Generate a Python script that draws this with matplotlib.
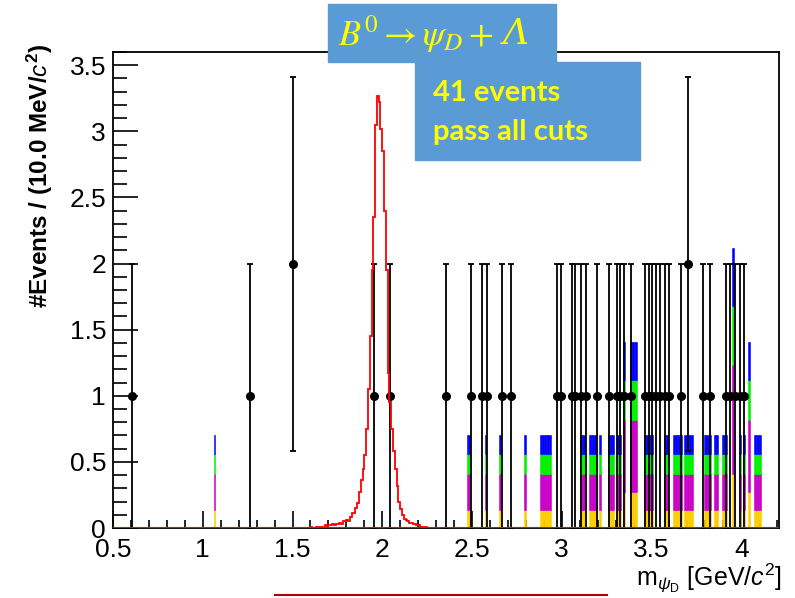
import numpy as np
import matplotlib
matplotlib.use("Agg")
import matplotlib.pyplot as plt
from matplotlib.patches import Rectangle
from matplotlib.ticker import MultipleLocator, FormatStrFormatter

plt.rcParams['font.family'] = ['Liberation Sans', 'DejaVu Sans']
plt.rcParams['mathtext.fontset'] = 'custom'
plt.rcParams['mathtext.rm'] = 'Liberation Sans'
plt.rcParams['mathtext.it'] = 'Liberation Sans:italic'
plt.rcParams['mathtext.bf'] = 'Liberation Sans:bold'

# data: bin centres (10 MeV bins) and counts, 41 events
data_x = [0.605, 1.265, 1.505, 1.955, 2.045, 2.355, 2.495, 2.555, 2.585, 2.665,
          2.715, 2.975, 2.995, 3.055, 3.075, 3.105, 3.135, 3.195, 3.265, 3.305,
          3.325, 3.345, 3.385, 3.465, 3.485, 3.505, 3.525, 3.545, 3.575, 3.595,
          3.665, 3.705, 3.785, 3.825, 3.915, 3.935, 3.965, 3.995, 4.015]
data_n = [1, 1, 2, 1, 1, 1, 1, 1, 1, 1,
          1, 1, 1, 1, 1, 1, 1, 1, 1, 1,
          1, 1, 1, 1, 1, 1, 1, 1, 1, 1,
          1, 2, 1, 1, 1, 1, 1, 1, 1]

# background MC stack: bin centres and multiplicity
mc_x = [1.065, 2.475, 2.485, 2.575, 2.655, 2.795,
        2.885, 2.895, 2.905, 2.915, 2.925, 2.935,
        3.105, 3.115, 3.125, 3.155, 3.165, 3.175, 3.185, 3.215,
        3.265, 3.275, 3.285, 3.315, 3.325, 3.345,
        3.385, 3.395, 3.405, 3.415,
        3.465, 3.475, 3.485, 3.495, 3.505, 3.575, 3.585,
        3.625, 3.635, 3.645, 3.655, 3.665,
        3.685, 3.695, 3.705, 3.715, 3.725,
        3.795, 3.805, 3.815, 3.825, 3.855, 3.865,
        3.895, 3.905, 3.915, 3.955, 3.995, 4.015, 4.045,
        4.075, 4.085, 4.095, 4.105]
mc_w = [1, 1, 1, 1, 1, 1,
        1, 1, 1, 1, 1, 1,
        1, 1, 1, 1, 1, 1, 1, 1,
        1, 1, 1, 1, 1, 2,
        2, 2, 2, 2,
        1, 1, 1, 1, 1, 1, 1,
        1, 1, 1, 1, 1,
        1, 1, 1, 1, 1,
        1, 1, 1, 1, 1, 1,
        1, 1, 1, 3, 1, 1, 2,
        1, 1, 1, 1]
# per-unit height of each component (bottom to top)
mc_layers = [0.135, 0.275, 0.15, 0.145]
mc_colors = ['#FFCC00', '#C800C8', '#00F000', '#0000FF']

# signal MC histogram
sig_lo = 1.60
sig_vals = [0.005, 0, 0, 0.01, 0, 0.01, 0.01, 0, 0.02, 0.01,
            0.02, 0.02, 0.03, 0.02, 0.03, 0.03, 0.04, 0.03, 0.05, 0.05,
            0.06, 0.05, 0.08, 0.11, 0.11, 0.15, 0.19, 0.27, 0.36, 0.45,
            0.55, 0.75, 1.05, 1.45, 1.95, 2.35, 3.05, 3.27, 3.22, 3.02,
            2.85, 2.40, 1.95, 1.17, 0.95, 0.75, 0.58, 0.45, 0.32, 0.20,
            0.14, 0.10, 0.07, 0.06, 0.05, 0.04, 0.04, 0.03, 0.03, 0.02,
            0.02, 0.01, 0.01, 0.005, 0.005]

fig = plt.figure(figsize=(7.95, 5.98), dpi=100)
ax = fig.add_axes([113/795, 70/598, 666/795, 476/598])

bw = 0.01
mc_w = np.array(mc_w, dtype=float)
bottom = np.zeros(len(mc_x))
for h, c in zip(mc_layers, mc_colors):
    ax.bar(mc_x, h * mc_w, width=bw, bottom=bottom, color=c,
           edgecolor=c, linewidth=0.4, zorder=2)
    bottom += h * mc_w

data_n = np.array(data_n, dtype=float)
ax.errorbar(data_x, data_n, yerr=np.sqrt(data_n), fmt='o', color='black',
            ms=5.5, elinewidth=1.3, capsize=2.5, capthick=1.3, zorder=3)

edges = sig_lo + bw * np.arange(len(sig_vals) + 1)
ax.stairs(sig_vals, edges, color='red', linewidth=1.3, zorder=4)
ax.axhline(0, color='red', linewidth=1.5, zorder=4)

ax.set_xlim(0.5, 4.21)
ax.set_ylim(0, 3.6)
ax.xaxis.set_major_locator(MultipleLocator(0.5))
ax.xaxis.set_minor_locator(MultipleLocator(0.1))
ax.yaxis.set_major_locator(MultipleLocator(0.5))
ax.yaxis.set_minor_locator(MultipleLocator(0.1))
ax.xaxis.set_major_formatter(FormatStrFormatter('%g'))
ax.yaxis.set_major_formatter(FormatStrFormatter('%g'))
ax.tick_params(which='both', direction='in', top=False, right=False, width=1.2)
ax.tick_params(axis='x', which='major', length=12, labelsize=19, pad=7)
ax.tick_params(axis='x', which='minor', length=6)
ax.tick_params(axis='y', which='major', length=18, labelsize=19, pad=5)
ax.tick_params(axis='y', which='minor', length=10)
for s in ax.spines.values():
    s.set_linewidth(1.3)

fig.text(40/795, 1 - 44/598, r'#Events / (10.0 MeV/$\mathbf{\mathit{c}^2}$)',
         rotation=90, ha='center', va='top', fontsize=17.5, fontweight='bold')
fig.text(782/795, 1 - 578/598, r'm$_{\psi_{\mathrm{D}}}$ [GeV/$\mathit{c}^2$]',
         ha='right', va='center', fontsize=18)

box_blue = '#5B9BD5'
fig.patches.append(Rectangle((328/795, 1 - 62/598), 228/795, 58/598,
                             transform=fig.transFigure, color=box_blue, zorder=5))
fig.patches.append(Rectangle((415/795, 1 - 160/598), 225/795, 98/598,
                             transform=fig.transFigure, color=box_blue, zorder=5))

# title: mathtext part, then an italic capital lambda placed after it
t1 = fig.text(338/795, 1 - 34/598, r'$B^0 \rightarrow \psi_D +$',
              ha='left', va='center', fontsize=26, color='#FFFF00', zorder=6,
              math_fontfamily='stix')
renderer = fig.canvas.get_renderer()
bb = t1.get_window_extent(renderer)
fig.text((bb.x1 + 9) / 795, 1 - 34/598, '\u039b', ha='left', va='center',
         fontsize=26, color='#FFFF00', zorder=6, family='DejaVu Serif',
         style='italic')

fig.text(433/795, 1 - 93/598, '41 events', ha='left', va='center', fontsize=21,
         fontweight='bold', color='#FFFF00', family='Lato', zorder=6)
fig.text(433/795, 1 - 132/598, 'pass all cuts', ha='left', va='center', fontsize=21,
         fontweight='bold', color='#FFFF00', family='Lato', zorder=6)

fig.add_artist(plt.Line2D([275/795, 607/795], [1 - 595/598, 1 - 595/598],
                          transform=fig.transFigure, color='#B00000', linewidth=1.5))

fig.savefig('out.png', dpi=100)
